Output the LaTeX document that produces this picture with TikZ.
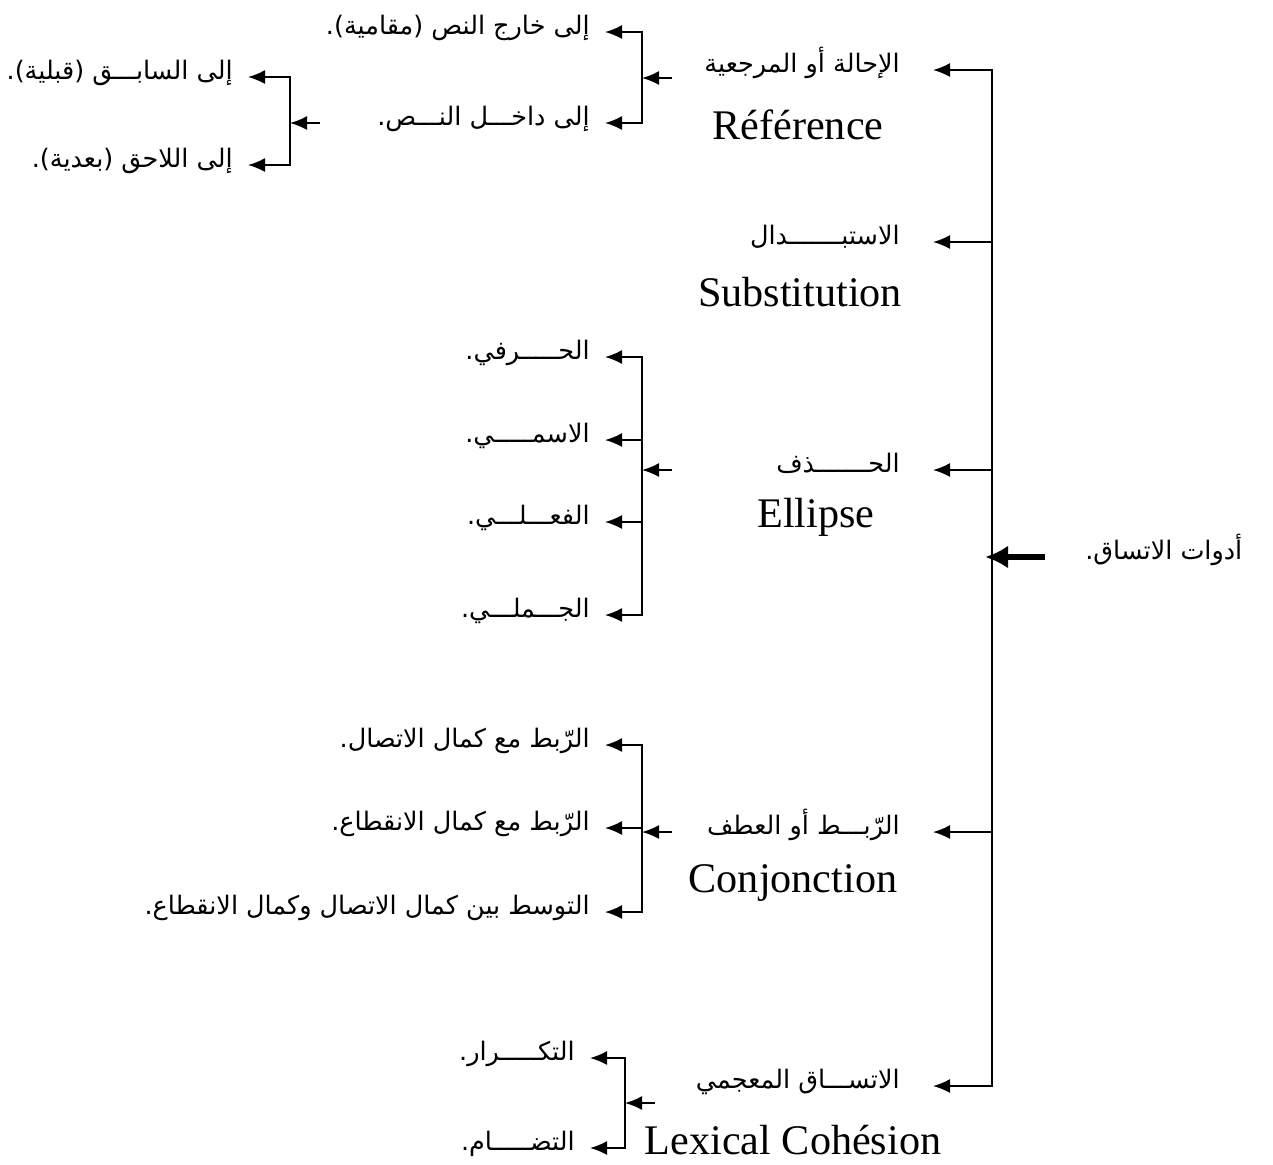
\documentclass[tikz,border=0pt]{standalone}
\usepackage{fontspec}
\setmainfont{Liberation Serif}
\newfontfamily\arabicfont[Script=Arabic]{DejaVu Sans}
\TeXXeTstate=1
\usetikzlibrary{arrows.meta}

\begin{document}
\begin{tikzpicture}[
  arlbl/.style={font=\arabicfont\fontsize{14.5}{17}\selectfont, anchor=east, inner xsep=0.66cm, inner ysep=0pt, text height=0.34cm, text depth=0.26cm},
  frlbl/.style={font=\fontsize{24}{28}\selectfont, inner sep=0pt},
  leaf/.style={font=\arabicfont\fontsize{14.5}{17}\selectfont, anchor=east, inner xsep=0.3cm, inner ysep=0pt, text height=0.34cm, text depth=0.26cm},
  arrow/.style={-{Latex[length=0.34cm,width=0.28cm]}, line width=1pt},
  bigarrow/.style={-{Latex[length=0.46cm,width=0.46cm]}, line width=3pt}
]
\useasboundingbox (0,0) rectangle (25.46,-23.28);

% the five tools
\node[arlbl] (refar) at (18.66,-1.40) {\beginR الإحالة أو المرجعية\endR};
\node[frlbl] (reffr) at (15.96,-2.50) {Référence};
\node[arlbl] (subar) at (18.66,-4.84) {\beginR الاستبـــــــدال\endR};
\node[frlbl] (subfr) at (16.00,-5.84) {Substitution};
\node[arlbl] (ellar) at (18.66,-9.40) {\beginR الحـــــــذف\endR};
\node[frlbl] (ellfr) at (16.32,-10.34) {Ellipse};
\node[arlbl] (conar) at (18.66,-16.64) {\beginR الرّبـــط أو العطف\endR};
\node[frlbl] (confr) at (15.86,-17.66) {Conjonction};
\node[arlbl] (lexar) at (18.66,-21.72) {\beginR الاتســـاق المعجمي\endR};
\node[frlbl] (lexfr) at (15.86,-22.80) {Lexical Cohésion};
\node[font=\arabicfont\fontsize{14.5}{17}\selectfont, anchor=west, inner sep=0pt, text height=0.34cm, text depth=0.26cm] (tools) at (21.70,-11.14) {\beginR أدوات الاتساق.\endR};

% spine
\coordinate (spinetop) at (19.84,-1.40);
\coordinate (spinebot) at (19.84,-21.72);
\draw[arrow] (spinebot) |- (refar.east);
\draw[arrow] (spinetop) |- (lexar.east);
\foreach \n in {subar,ellar,conar}
  \draw[arrow] (\n.east -| spinetop) -- (\n.east);
\draw[bigarrow, shorten <=0.8cm, shorten >=-0.14cm] (tools.west) -- (tools.west -| spinetop);

% reference
\coordinate (refout) at (13.44,-1.56);
\coordinate (refjoin) at (12.84,-1.56);
\node[leaf] (outside) at (12.10,-0.64) {\beginR إلى خارج النص (مقامية).\endR};
\node[leaf] (inside) at (12.10,-2.46) {\beginR إلى داخـــل النـــص.\endR};
\draw[arrow] (refout) -- (refjoin);
\draw[arrow] (refjoin) |- (outside.east);
\draw[arrow] (refjoin) |- (inside.east);

\coordinate (inout) at (6.40,-2.46);
\coordinate (injoin) at (5.80,-2.46);
\node[leaf] (before) at (4.96,-1.54) {\beginR إلى السابـــق (قبلية).\endR};
\node[leaf] (after) at (4.96,-3.30) {\beginR إلى اللاحق (بعدية).\endR};
\draw[arrow] (inout) -- (injoin);
\draw[arrow] (injoin) |- (before.east);
\draw[arrow] (injoin) |- (after.east);

% ellipse
\coordinate (ellout) at (13.44,-9.40);
\coordinate (elljoin) at (12.84,-9.40);
\node[leaf] (particle) at (12.10,-7.14) {\beginR الحـــــرفي.\endR};
\node[leaf] (nominal) at (12.10,-8.80) {\beginR الاسمـــــي.\endR};
\node[leaf] (verbal) at (12.10,-10.44) {\beginR الفعـــلـــي.\endR};
\node[leaf] (clausal) at (12.10,-12.30) {\beginR الجـــملـــي.\endR};
\draw[arrow] (ellout) -- (elljoin);
\foreach \n in {particle,nominal,verbal,clausal}
  \draw[arrow] (elljoin) |- (\n.east);

% conjunction
\coordinate (conout) at (13.44,-16.64);
\coordinate (conjoin) at (12.84,-16.64);
\node[leaf] (contact) at (12.10,-14.90) {\beginR الرّبط مع كمال الاتصال.\endR};
\node[leaf] (cut) at (12.10,-16.56) {\beginR الرّبط مع كمال الانقطاع.\endR};
\node[leaf] (between) at (12.10,-18.24) {\beginR التوسط بين كمال الاتصال وكمال الانقطاع.\endR};
\draw[arrow] (conout) -- (conjoin);
\foreach \n in {contact,cut,between}
  \draw[arrow] (conjoin) |- (\n.east);

% lexical cohesion
\coordinate (lexout) at (13.10,-22.06);
\coordinate (lexjoin) at (12.50,-22.06);
\node[leaf] (repeat) at (11.80,-21.16) {\beginR التكـــــرار.\endR};
\node[leaf] (colloc) at (11.80,-22.96) {\beginR التضـــــام.\endR};
\draw[arrow] (lexout) -- (lexjoin);
\draw[arrow] (lexjoin) |- (repeat.east);
\draw[arrow] (lexjoin) |- (colloc.east);
\end{tikzpicture}
\end{document}
